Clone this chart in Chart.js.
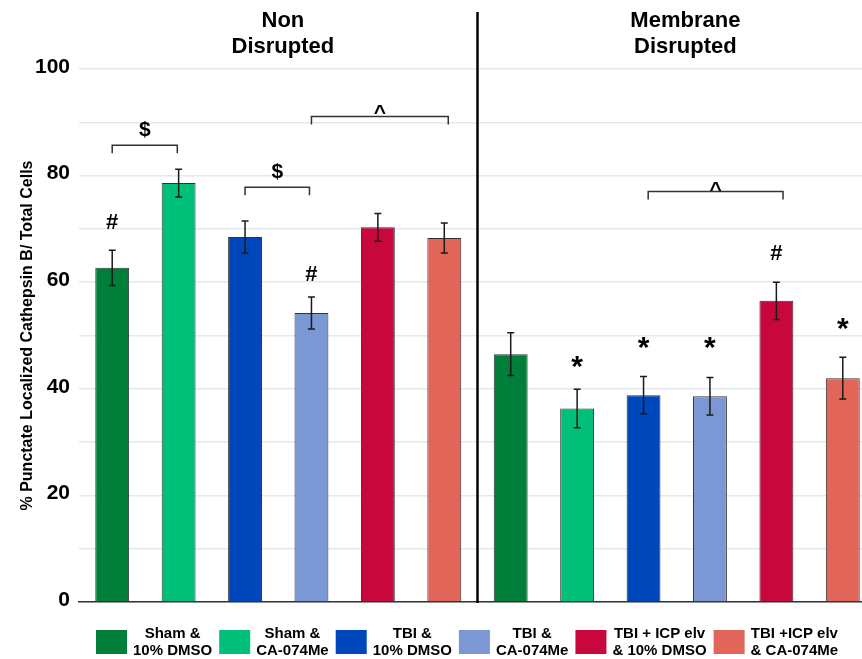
<!DOCTYPE html>
<html>
<head>
<meta charset="utf-8">
<script src="https://cdn.jsdelivr.net/npm/chart.js@4.4.1/dist/chart.umd.min.js"></script>
<style>
  html, body { margin: 0; padding: 0; background: #fff; overflow: hidden; }
  canvas { display: block; }
</style>
</head>
<body>
<canvas id="chart" width="876" height="659"></canvas>
<script>
// treatment groups (legend), same order in both halves
const groupLines = [
    ["Sham &", "10% DMSO"],
    ["Sham &", "CA-074Me"],
    ["TBI &", "10% DMSO"],
    ["TBI &", "CA-074Me"],
    ["TBI + ICP elv", "& 10% DMSO"],
    ["TBI +ICP elv", "& CA-074Me"]
];
const groupColors = ["#007f3b", "#00bf78", "#0047bb", "#7b98d4", "#c8083c", "#e2655a"];

const sections = ["Non Disrupted", "Membrane Disrupted"];
const nonDisrupted = [62.7, 78.6, 68.5, 54.2, 70.3, 68.3];
const nonDisruptedErr = [3.3, 2.6, 3.0, 3.0, 2.6, 2.8];
const membraneDisrupted = [46.5, 36.3, 38.8, 38.6, 56.5, 42.0];
const membraneDisruptedErr = [4.0, 3.6, 3.5, 3.5, 3.5, 3.9];

const yTickLabels = [0, 20, 40, 60, 80, 100];

// significance marks: bar index (0-11), value where the symbol sits
const marks = [
    { bar: 0, y: 70.0, text: "#" },
    { bar: 3, y: 60.3, text: "#" },
    { bar: 10, y: 64.2, text: "#" },
    { bar: 7, y: 42.4, text: "*" },
    { bar: 8, y: 46.0, text: "*" },
    { bar: 9, y: 46.0, text: "*" },
    { bar: 11, y: 49.5, text: "*" }
];
// comparison brackets: from/to bar position, bracket level, symbol level
const brackets = [
    { from: 0, to: 0.98, y: 85.7, labelY: 87.5, text: "$" },
    { from: 2, to: 2.97, y: 77.8, labelY: 79.5, text: "$" },
    { from: 3, to: 5.06, y: 91.1, labelY: 90.6, text: "^" },
    { from: 8.07, to: 10.1, y: 77.0, labelY: 76.2, text: "^" }
];

const values = nonDisrupted.concat(membraneDisrupted);
const errors = nonDisruptedErr.concat(membraneDisruptedErr);
const labels = sections.flatMap(s => groupLines.map(g => s + ": " + g.join(" ")));
const colors = groupColors.concat(groupColors);

const FONT = "'Liberation Sans', Arial, sans-serif";
Chart.defaults.font.family = FONT;
Chart.defaults.color = "#000";

const errorBars = {
    id: "errorBars",
    afterDatasetsDraw(chart) {
        const ctx = chart.ctx;
        const y = chart.scales.y;
        const meta = chart.getDatasetMeta(0);
        ctx.save();
        ctx.strokeStyle = "#1a1a1a";
        ctx.lineWidth = 1.5;
        meta.data.forEach((bar, i) => {
            const top = y.getPixelForValue(values[i] + errors[i]);
            const bot = y.getPixelForValue(values[i] - errors[i]);
            ctx.beginPath();
            ctx.moveTo(bar.x, top); ctx.lineTo(bar.x, bot);
            ctx.moveTo(bar.x - 3.5, top); ctx.lineTo(bar.x + 3.5, top);
            ctx.moveTo(bar.x - 3.5, bot); ctx.lineTo(bar.x + 3.5, bot);
            ctx.stroke();
        });
        ctx.restore();
    }
};

const decorations = {
    id: "decorations",
    afterDraw(chart) {
        const ctx = chart.ctx;
        const x = chart.scales.x;
        const y = chart.scales.y;
        const area = chart.chartArea;
        ctx.save();

        // divider between the two halves
        ctx.strokeStyle = "#000";
        ctx.lineWidth = 2.5;
        const dx = x.getPixelForValue(5.5);
        ctx.beginPath();
        ctx.moveTo(dx, 12); ctx.lineTo(dx, area.bottom + 1);
        ctx.stroke();

        // section titles
        ctx.font = "bold 22px " + FONT;
        ctx.fillStyle = "#000";
        ctx.textAlign = "center";
        ctx.textBaseline = "middle";
        const titlePos = [2.57, 8.63];
        const titleLines = [["Non", "Disrupted"], ["Membrane", "Disrupted"]];
        titleLines.forEach((lines, k) => {
            const tx = x.getPixelForValue(titlePos[k]);
            ctx.fillText(lines[0], tx, 21);
            ctx.fillText(lines[1], tx, 47);
        });

        // brackets
        ctx.strokeStyle = "#333";
        ctx.lineWidth = 1.5;
        ctx.textBaseline = "alphabetic";
        brackets.forEach(b => {
            const x1 = x.getPixelForValue(b.from);
            const x2 = x.getPixelForValue(b.to);
            const by = y.getPixelForValue(b.y);
            ctx.beginPath();
            ctx.moveTo(x1, by + 8); ctx.lineTo(x1, by);
            ctx.lineTo(x2, by); ctx.lineTo(x2, by + 8);
            ctx.stroke();
            ctx.font = "bold 21px " + FONT;
            ctx.fillText(b.text, (x1 + x2) / 2, y.getPixelForValue(b.labelY));
        });

        // # and * marks
        marks.forEach(m => {
            ctx.font = (m.text === "*" ? "bold 30px " : "bold 22px ") + FONT;
            ctx.fillText(m.text, x.getPixelForValue(m.bar), y.getPixelForValue(m.y));
        });

        // legend
        ctx.font = "bold 15px " + FONT;
        ctx.textBaseline = "middle";
        let lx = 96;
        groupLines.forEach((lines, i) => {
            ctx.fillStyle = groupColors[i];
            ctx.fillRect(lx, 630, 31, 24);
            const w = Math.max(ctx.measureText(lines[0]).width, ctx.measureText(lines[1]).width);
            const cx = lx + 31 + 6 + w / 2;
            ctx.fillStyle = "#000";
            ctx.fillText(lines[0], cx, 634);
            ctx.fillText(lines[1], cx, 651);
            lx = cx + w / 2 + 7;
        });
        ctx.restore();
    }
};

new Chart(document.getElementById("chart"), {
    type: "bar",
    data: {
        labels: labels,
        datasets: [{
            data: values,
            backgroundColor: colors,
            borderColor: "#333",
            borderWidth: 1,
            categoryPercentage: 1,
            barPercentage: 0.51
        }]
    },
    options: {
        responsive: false,
        animation: false,
        devicePixelRatio: 1,
        layout: { padding: { left: 18, top: 69, right: 0, bottom: 57 } },
        plugins: {
            legend: { display: false },
            tooltip: { enabled: false }
        },
        scales: {
            x: {
                ticks: { display: false },
                grid: { display: false, drawTicks: false },
                border: { display: true, color: "#333", width: 1.5 },
                afterFit(scale) { scale.height = 0; }
            },
            y: {
                min: 0,
                max: 100,
                ticks: {
                    stepSize: 10,
                    padding: 9,
                    labelOffset: -2,
                    font: { size: 21, weight: "bold" },
                    callback: v => yTickLabels.includes(v) ? v : ""
                },
                grid: { color: "#e3e7ee", lineWidth: 1.5, drawTicks: false },
                border: { display: false },
                title: {
                    display: true,
                    text: "% Punctate Localized Cathepsin B/ Total Cells",
                    font: { size: 16, weight: "bold" },
                    padding: 0
                },
                afterFit(scale) { scale.width = 61; }
            }
        }
    },
    plugins: [errorBars, decorations]
});
</script>
</body>
</html>
